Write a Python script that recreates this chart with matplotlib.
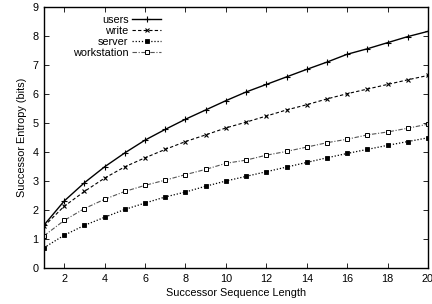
import matplotlib
matplotlib.use("Agg")
import matplotlib.pyplot as plt

plt.rcParams['font.family'] = ['Liberation Sans', 'DejaVu Sans']

x = list(range(1, 21))
users = [1.48, 2.31, 2.94, 3.49, 3.97, 4.41, 4.78, 5.13, 5.45, 5.77,
         6.07, 6.33, 6.59, 6.85, 7.10, 7.37, 7.56, 7.77, 7.98, 8.16]
write = [1.44, 2.13, 2.64, 3.10, 3.49, 3.80, 4.09, 4.36, 4.59, 4.83,
         5.03, 5.24, 5.45, 5.63, 5.83, 6.01, 6.17, 6.33, 6.49, 6.64]
server = [0.70, 1.13, 1.47, 1.75, 2.02, 2.24, 2.45, 2.62, 2.82, 3.00,
          3.16, 3.32, 3.48, 3.64, 3.80, 3.95, 4.09, 4.23, 4.36, 4.49]
workstation = [1.11, 1.64, 2.05, 2.37, 2.64, 2.85, 3.03, 3.22, 3.40, 3.61,
               3.72, 3.89, 4.02, 4.17, 4.32, 4.44, 4.59, 4.69, 4.82, 4.96]

xticks = [2, 4, 6, 8, 10, 12, 14, 16, 18, 20]
yticks = list(range(0, 10))

FS = 7.8
fig = plt.figure(figsize=(4.32, 3.04), dpi=100)
ax = fig.add_axes([44/432, 1 - 268/304, (428 - 44)/432, (268 - 7)/304])

ax.plot(x, users, color='black', lw=1.0, ls='-', marker='+', ms=4, mew=0.8, label='users')
ax.plot(x, write, color='black', lw=0.8, ls=(0, (3, 2)), marker='x', ms=3.5, mew=0.8, label='write')
ax.plot(x, server, color='black', lw=0.9, ls=(0, (1, 1.5)), marker='s', ms=2.8, mew=0.6, label='server')
ax.plot(x, workstation, color='#555555', lw=0.8, ls=(0, (4, 1.5, 1, 1.5)), marker='s', ms=3.5,
        mfc='white', mec='black', mew=0.7, label='workstation')

ax.set_xlim(1, 20)
ax.set_ylim(0, 9)
ax.set_xticks(xticks)
ax.set_yticks(yticks)
ax.tick_params(direction='in', top=True, right=True, labelsize=FS, length=3.5, width=0.6, pad=4)
for s in ax.spines.values():
    s.set_linewidth(1.0)

ax.set_xlabel('Successor Sequence Length', fontsize=FS, labelpad=3)
ax.set_ylabel('Successor Entropy (bits)', fontsize=FS, labelpad=4)

leg = ax.legend(loc='upper left', bbox_to_anchor=(0.058, 0.995), fontsize=FS, frameon=False,
                markerfirst=False, numpoints=1, handlelength=2.7, handletextpad=0.35,
                labelspacing=0.1, borderaxespad=0.2)
for col in leg._legend_handle_box.get_children():
    col.align = 'right'

fig.savefig('out.png', dpi=100)
